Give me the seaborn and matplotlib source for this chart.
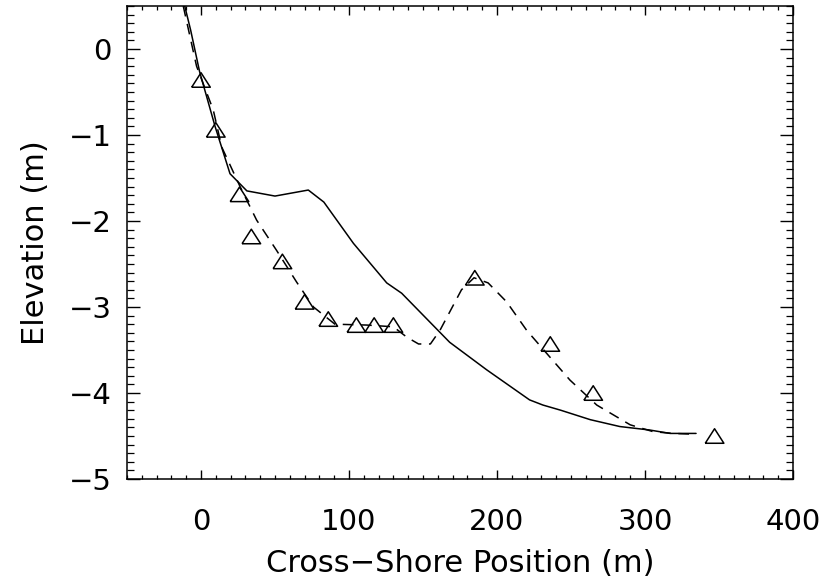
import numpy as np
import pandas as pd
import matplotlib
matplotlib.use("Agg")
import matplotlib.pyplot as plt
import seaborn as sns
from matplotlib.ticker import MultipleLocator

# Observed profile (triangles)
obs_x = [0, 10, 26, 34, 55, 70, 86, 105, 117, 130, 185, 236, 265, 347]
obs_y = [-0.36, -0.94, -1.69, -2.18, -2.47, -2.94, -3.14, -3.21, -3.21, -3.21, -2.66, -3.43, -4.0, -4.5]

# Solid profile
solid_x = [-11, -7, -1, 9.5, 19.6, 31, 50, 72.5, 83, 103, 125.5, 135.6, 168, 193, 222, 231, 243, 263, 283, 303, 317, 334.5]
solid_y = [0.5, 0.22, -0.26, -0.9, -1.45, -1.65, -1.71, -1.64, -1.78, -2.26, -2.72, -2.84, -3.41, -3.73, -4.08, -4.14, -4.2, -4.31, -4.39, -4.43, -4.47, -4.47]

# Dashed profile
dash_x = [-12, -3, 8.3, 14, 26.4, 37.6, 51, 64.6, 76, 90.5, 112, 130, 139, 147, 155, 161.5, 176, 184.5, 194, 206.5, 220, 233.6, 249.3, 267.4, 290, 305.6, 319, 334.5]
dash_y = [0.5, -0.2, -0.71, -1.14, -1.6, -1.99, -2.34, -2.71, -3.0, -3.2, -3.21, -3.23, -3.35, -3.43, -3.43, -3.27, -2.8, -2.66, -2.72, -2.94, -3.27, -3.54, -3.85, -4.14, -4.37, -4.45, -4.47, -4.48]

x_ticks = [0, 100, 200, 300, 400]
y_ticks = [0, -1, -2, -3, -4, -5]

sns.set_style("ticks")
plt.rcParams['font.family'] = ['DejaVu Sans']
plt.rcParams['text.color'] = 'black'
plt.rcParams['axes.labelcolor'] = 'black'
plt.rcParams['xtick.color'] = 'black'
plt.rcParams['ytick.color'] = 'black'

fig = plt.figure(figsize=(8.26, 5.81), dpi=100)
ax = fig.add_axes([127/826, 1 - 479/581, (793-127)/826, (479-6)/581])

solid_df = pd.DataFrame({"x": solid_x, "y": solid_y})
dash_df = pd.DataFrame({"x": dash_x, "y": dash_y})
obs_df = pd.DataFrame({"x": obs_x, "y": obs_y})

sns.lineplot(data=solid_df, x="x", y="y", sort=False, color="black", lw=1.1, ax=ax)
sns.lineplot(data=dash_df, x="x", y="y", sort=False, color="black", lw=1.1,
             dashes=False, ax=ax)
ax.lines[-1].set_dashes([7, 5])

tri = [(-1, -0.78), (1, -0.78), (0, 0.78), (-1, -0.78)]
sns.scatterplot(data=obs_df, x="x", y="y", marker=tri, s=180, ax=ax, zorder=5)
coll = ax.collections[-1]
coll.set_facecolor("none")
coll.set_edgecolor("black")
coll.set_linewidth(1.1)

ax.set_xlim(-50, 400)
ax.set_ylim(-5, 0.5)
ax.set_xticks(x_ticks)
ax.set_yticks(y_ticks)
ax.set_xticklabels([str(v) for v in x_ticks])
ax.set_yticklabels(["\u2212" + str(-v) if v < 0 else str(v) for v in y_ticks])
ax.xaxis.set_minor_locator(MultipleLocator(10))
ax.yaxis.set_minor_locator(MultipleLocator(0.1))

for s in ax.spines.values():
    s.set_visible(True)
    s.set_linewidth(1.1)
    s.set_color("black")

ax.tick_params(axis="x", which="major", direction="in", top=True, bottom=True,
               length=6.5, width=1, labelsize=21, pad=21, colors="black")
ax.tick_params(axis="x", which="minor", direction="in", top=True, bottom=True,
               length=3, width=0.9, colors="black")
ax.tick_params(axis="y", which="major", direction="in", left=True, right=True,
               length=9.5, width=1, labelsize=21, pad=11, colors="black")
ax.tick_params(axis="y", which="minor", direction="in", left=True, right=True,
               length=4.8, width=0.9, colors="black")

ax.set_xlabel("Cross\u2212Shore Position (m)", fontsize=22, color="black")
ax.set_ylabel("Elevation (m)", fontsize=22, color="black")
ax.xaxis.set_label_coords(0.5, (479 - 563) / 473, transform=ax.transAxes)
ax.yaxis.set_label_coords((35 - 127) / 666, 0.5, transform=ax.transAxes)
ax.xaxis.label.set_va("center")
ax.yaxis.label.set_va("center")

fig.savefig("out.png", dpi=100)
